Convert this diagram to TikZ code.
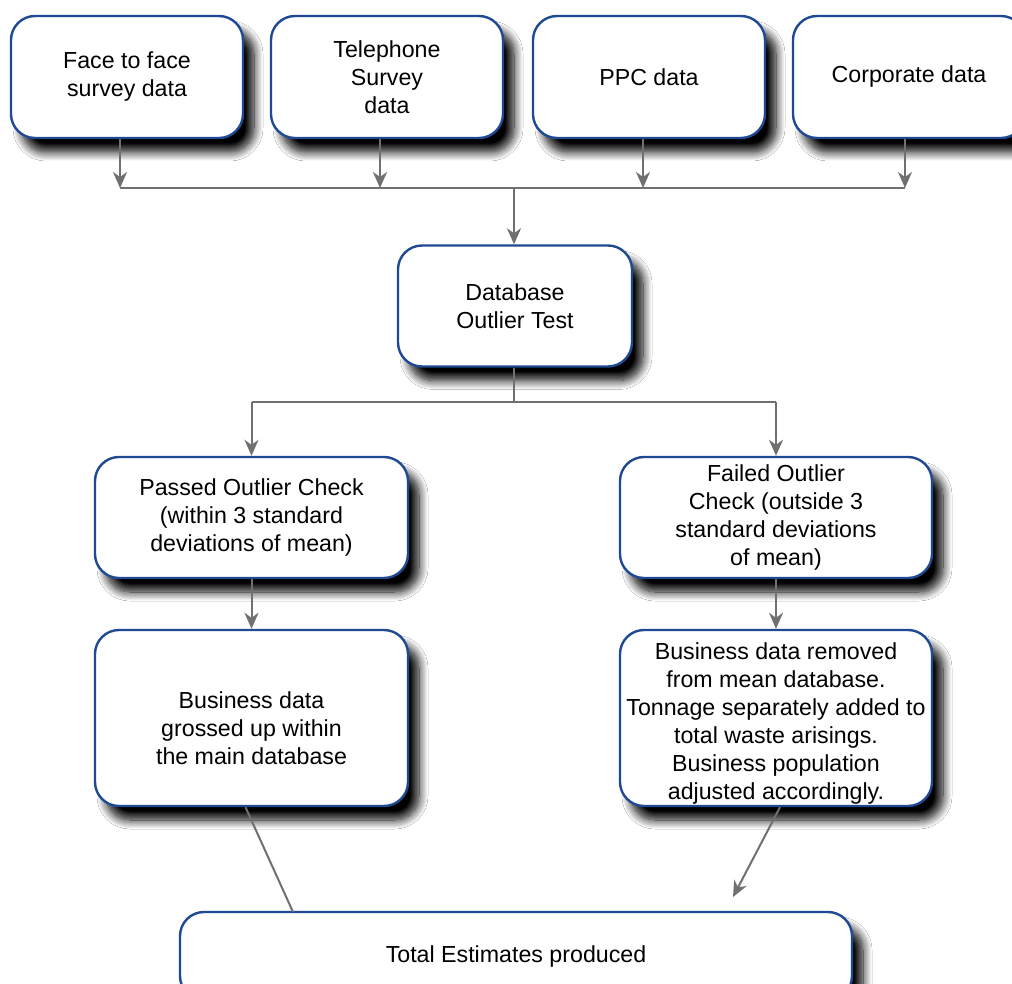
\documentclass[tikz,border=0pt]{standalone}
\usepackage{fontspec}
\setmainfont{Liberation Sans}
\usetikzlibrary{arrows.meta,shadows.blur,calc}
\definecolor{boxblue}{HTML}{1F4A93}
\definecolor{arrgray}{HTML}{707070}
\begin{document}
\begin{tikzpicture}[x=0.5pt,y=-0.5pt,
  box/.style={draw=boxblue, line width=1.2pt, fill=white, rounded corners=12pt,
    align=center, inner sep=1pt,
    font=\fontsize{11.6}{14}\selectfont,
    blur shadow={shadow xshift=5.5pt, shadow yshift=-7pt, shadow opacity=100, shadow blur radius=4.5pt, shadow blur steps=12, shadow blur extra rounding=2pt}},
  txt/.style={align=center, inner sep=1pt, font=\fontsize{11.6}{14}\selectfont},
  conn/.style={draw=arrgray, line width=1pt},
  arr/.style={conn, -{Stealth[length=8pt,width=7pt,inset=2.5pt]}}]
\useasboundingbox (0,0) rectangle (1012,984);
\clip (0,0) rectangle (1012,984);
\fill[white] (0,0) rectangle (1012,984);
% top row
\node[box, minimum width=116pt, minimum height=61pt] (f2f) at (127,77) {Face to face\\survey data};
\node[box, minimum width=116pt, minimum height=61pt] (tel) at (387,77) {Telephone\\Survey\\data};
\node[box, minimum width=116pt, minimum height=61pt] (ppc) at (649,77) {PPC data};
\node[box, minimum width=116pt, minimum height=61pt] (corp) at (909,77) {Corporate data};
% database
\node[box, minimum width=117pt, minimum height=60.5pt] (db) at (515,306) {Database\\Outlier Test};
% checks
\node[box, minimum width=156.5pt, minimum height=60.5pt] (pass) at (251.5,517.5) {Passed Outlier Check\\(within 3 standard\\deviations of mean)};
\node[box, minimum width=156pt, minimum height=60.5pt] (fail) at (776,517.5) {Failed Outlier\\Check (outside 3\\standard deviations\\of mean)};
% results
\node[box, minimum width=156.5pt, minimum height=88pt] (gross) at (251.5,718) {};
\node[txt] (grosstext) at ($(gross.center)+(0,10)$) {Business data\\grossed up within\\the main database};
\node[box, minimum width=156pt, minimum height=88pt] (rem) at (776,718) {};
\node[txt] (remtext) at ($(rem.center)+(0,5)$) {Business data removed\\from mean database.\\Tonnage separately added to\\total waste arisings.\\Business population\\adjusted accordingly.};
% total
\node[box, minimum width=336pt, minimum height=44pt] (total) at (516,956) {Total Estimates produced};
% bus
\coordinate (bus) at (514,188);
\coordinate (split) at (514,402);
\coordinate (t1) at (293,912);
\coordinate (t2) at (733,897);
\draw[arr] ($(f2f.south)+(-7,0)$) -- ($(f2f.south |- bus)+(-7,0)$);
\draw[arr] ($(tel.south)+(-7,0)$) -- ($(tel.south |- bus)+(-7,0)$);
\draw[arr] ($(ppc.south)+(-6,0)$) -- ($(ppc.south |- bus)+(-6,0)$);
\draw[arr] ($(corp.south)+(-4,0)$) -- ($(corp.south |- bus)+(-4,0)$);
\draw[conn] ($(f2f.south |- bus)+(-7,0)$) -- ($(corp.south |- bus)+(-4,0)$);
\draw[arr] (bus) -- (db.north -| bus);
\draw[conn] (db.south -| split) -- (split);
\draw[conn] (pass.north |- split) -- (fail.north |- split);
\draw[arr] (pass.north |- split) -- (pass.north);
\draw[arr] (fail.north |- split) -- (fail.north);
\draw[arr] (pass.south) -- (gross.north);
\draw[arr] (fail.south) -- (rem.north);
\draw[conn] ($(gross.south)+(-6,0)$) -- (t1);
\draw[arr] ($(rem.south)+(4,0)$) -- (t2);
\end{tikzpicture}
\end{document}
